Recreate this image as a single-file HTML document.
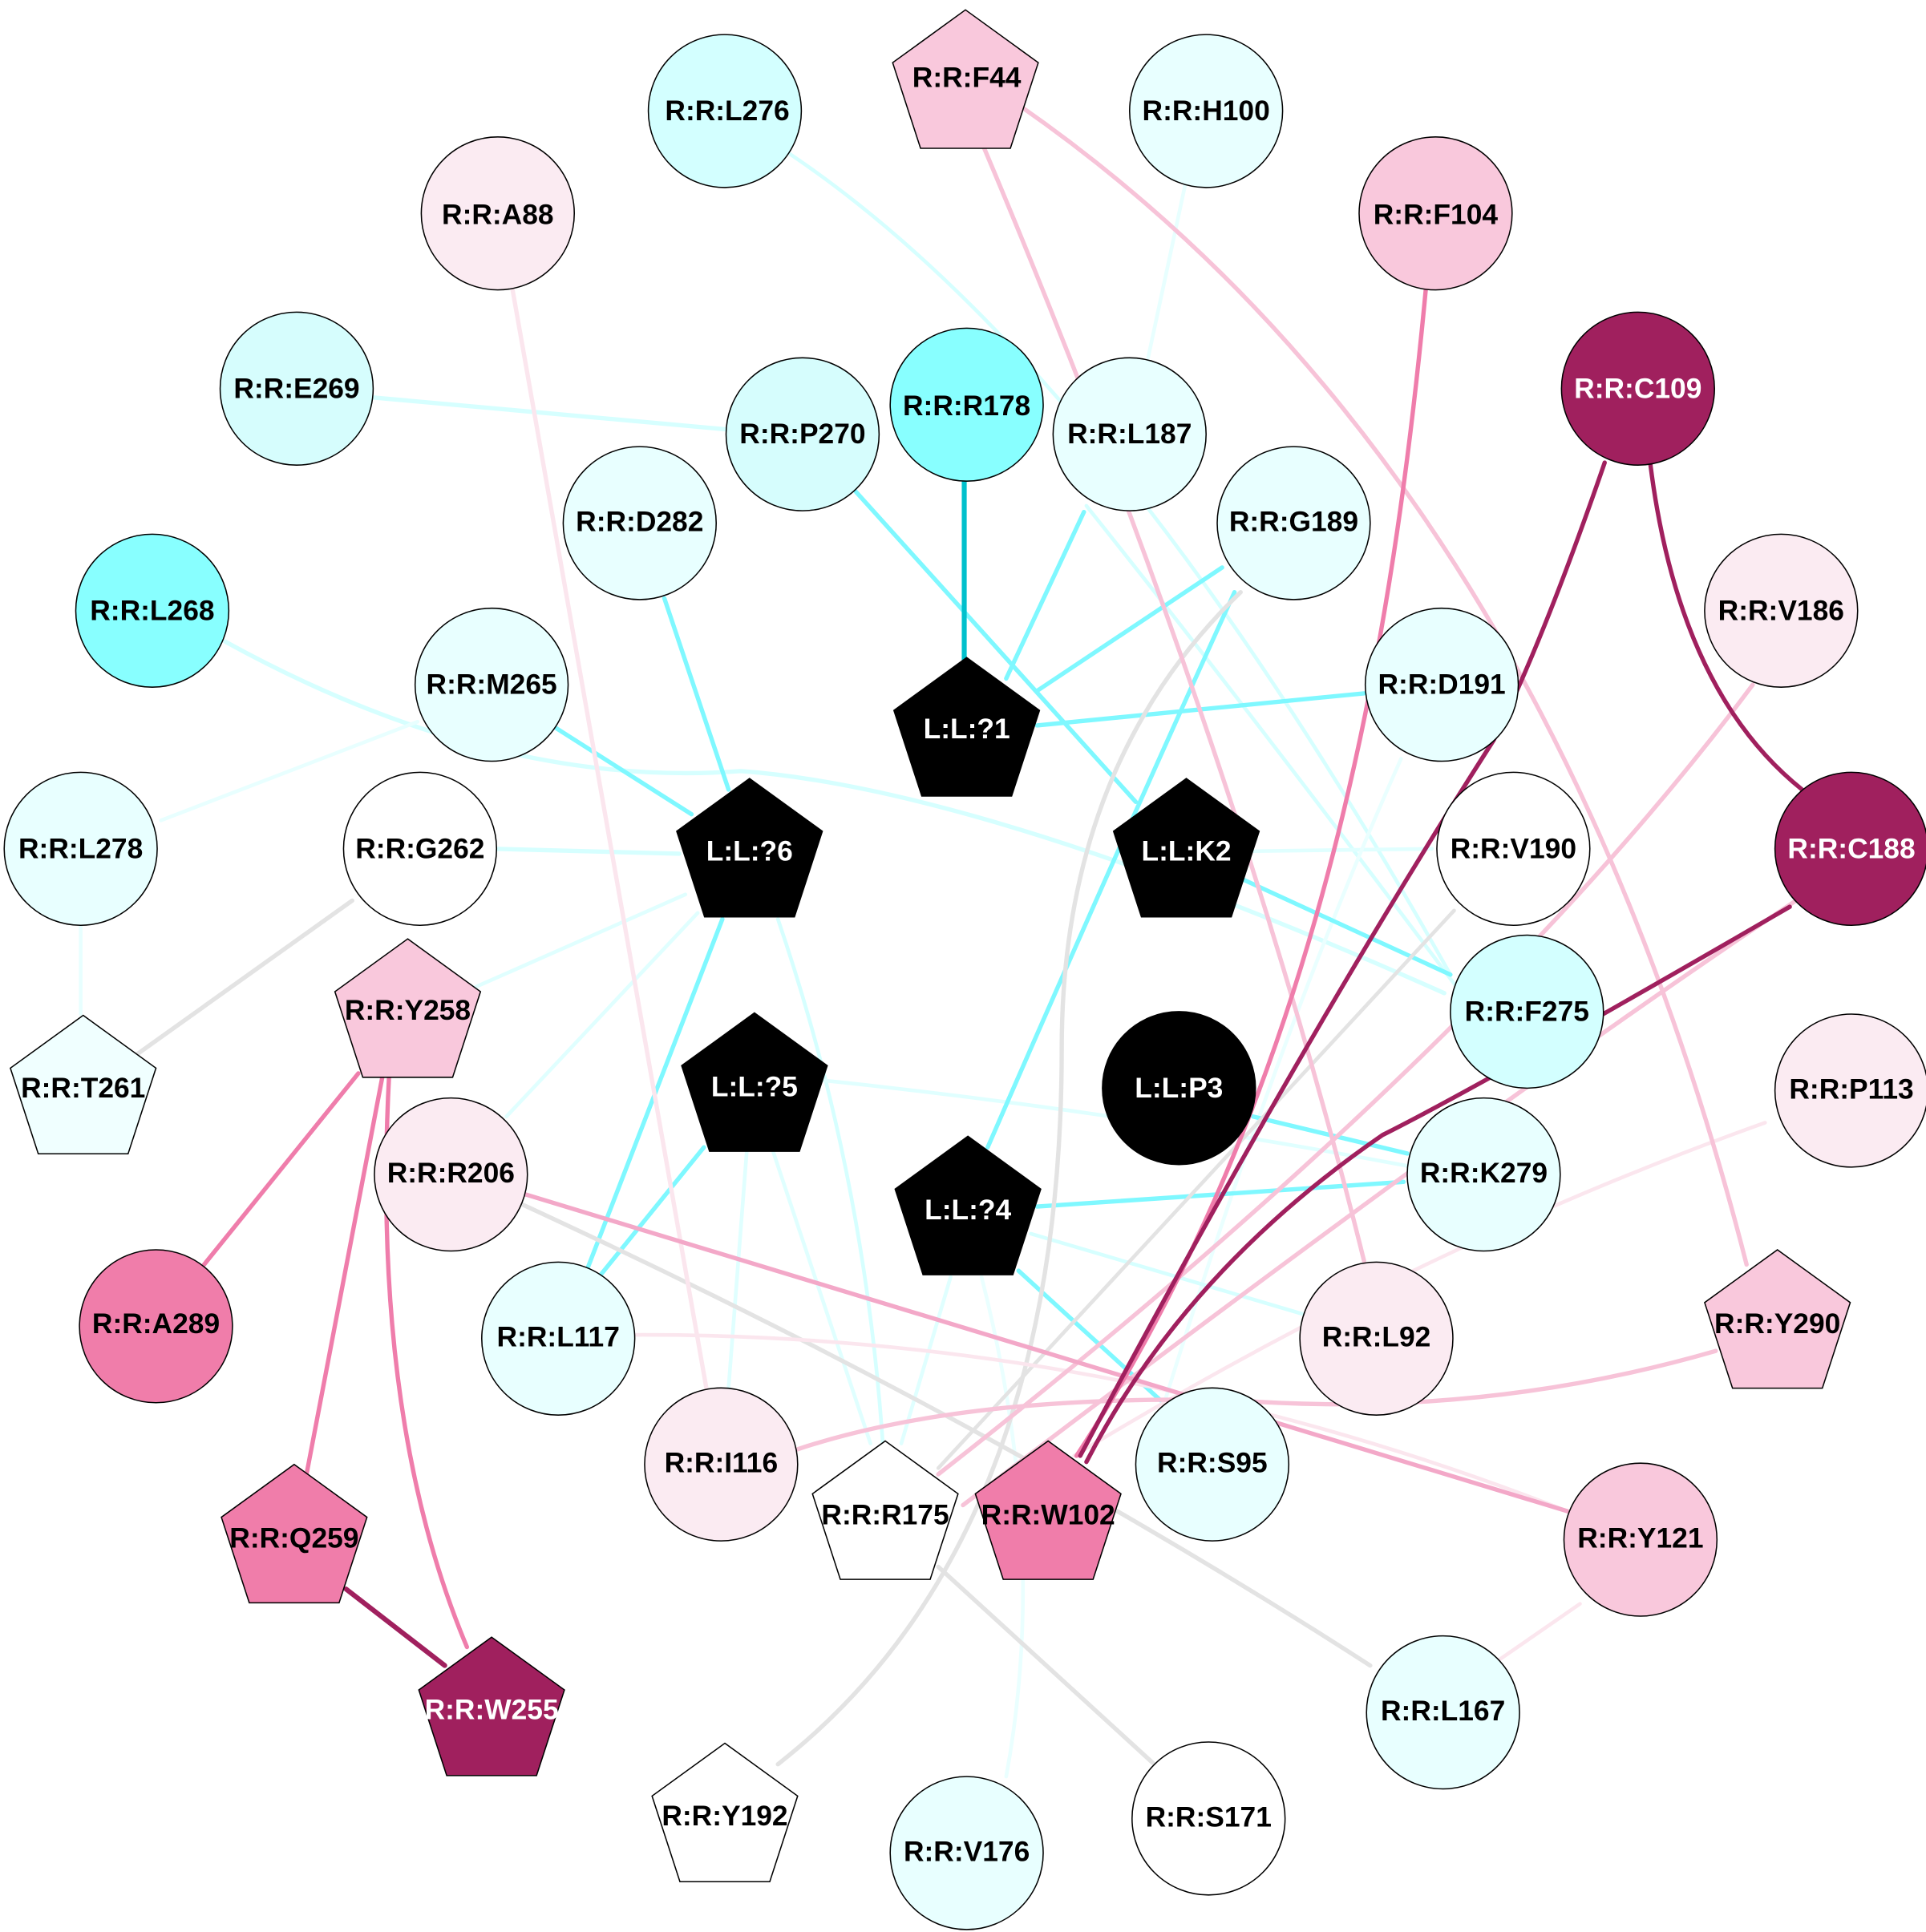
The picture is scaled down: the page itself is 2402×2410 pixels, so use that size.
<!DOCTYPE html>
<html><head><meta charset="utf-8"><style>html,body{margin:0;padding:0;background:#fff}svg{display:block}</style></head>
<body>
<svg xmlns="http://www.w3.org/2000/svg" width="2402" height="2410" viewBox="0 0 1560 1566">
<defs>
<polygon id="pg" points="0,-62 59,-19.2 36.4,50.2 -36.4,50.2 -59,-19.2"/>
</defs>
<rect width="1560" height="1566" fill="#fff"/>
<g fill="none" stroke-linecap="round">
<path d="M640,125 Q900,300 1175,790" stroke="#d6ffff" stroke-width="3"/>
<path d="M960,150 L930,290" stroke="#e8ffff" stroke-width="3"/>
<path d="M300,322 L588,348" stroke="#d6ffff" stroke-width="3.5"/>
<path d="M880,410 Q1000,560 1180,800" stroke="#d6ffff" stroke-width="3"/>
<path d="M182,520 Q400,640 600,625 Q800,640 1170,805" stroke="#d6ffff" stroke-width="3.5"/>
<path d="M338,585 L130,665" stroke="#e8ffff" stroke-width="3"/>
<path d="M65,750 L65,822" stroke="#e8ffff" stroke-width="3"/>
<path d="M400,688 L550,692" stroke="#d6ffff" stroke-width="3.5"/>
<path d="M555,725 L385,800" stroke="#e0ffff" stroke-width="3"/>
<path d="M565,740 L410,905" stroke="#e0ffff" stroke-width="3"/>
<path d="M630,745 Q700,950 715,1170" stroke="#d6ffff" stroke-width="3"/>
<path d="M1010,690 L1160,688" stroke="#e0ffff" stroke-width="3"/>
<path d="M1135,615 Q1030,850 930,1180" stroke="#eaffff" stroke-width="3"/>
<path d="M605,930 L590,1125" stroke="#e0ffff" stroke-width="3"/>
<path d="M625,930 L705,1170" stroke="#e0ffff" stroke-width="3"/>
<path d="M660,875 Q900,900 1140,945" stroke="#e0ffff" stroke-width="3"/>
<path d="M835,1000 L1055,1065" stroke="#d6ffff" stroke-width="3"/>
<path d="M770,1035 L730,1170" stroke="#e0ffff" stroke-width="3"/>
<path d="M795,1035 Q850,1250 815,1440" stroke="#eaffff" stroke-width="3"/>
<path d="M690,395 L920,650" stroke="#7ff8ff" stroke-width="3.5"/>
<path d="M878,415 L815,550" stroke="#7ff8ff" stroke-width="3.5"/>
<path d="M990,460 L840,560" stroke="#7ff8ff" stroke-width="3.5"/>
<path d="M1000,480 Q900,700 800,930" stroke="#7ff8ff" stroke-width="3.5"/>
<path d="M1105,562 L840,588" stroke="#7ff8ff" stroke-width="3.5"/>
<path d="M450,590 L560,660" stroke="#7ff8ff" stroke-width="3.5"/>
<path d="M538,485 L590,640" stroke="#7ff8ff" stroke-width="3.5"/>
<path d="M585,745 L475,1030" stroke="#7ff8ff" stroke-width="3.5"/>
<path d="M1005,712 L1175,790" stroke="#7ff8ff" stroke-width="3.5"/>
<path d="M570,930 L485,1035" stroke="#7ff8ff" stroke-width="3.5"/>
<path d="M1015,905 L1140,935" stroke="#7ff8ff" stroke-width="3.5"/>
<path d="M840,978 L1137,958" stroke="#7ff8ff" stroke-width="3.5"/>
<path d="M825,1030 L940,1135" stroke="#7ff8ff" stroke-width="3.5"/>
<path d="M781,390 L781,535" stroke="#00c0cc" stroke-width="4"/>
<path d="M1005,480 Q860,620 860,850 Q860,1250 630,1430" stroke="#e3e3e3" stroke-width="3.5"/>
<path d="M285,730 L110,855" stroke="#e3e3e3" stroke-width="3.5"/>
<path d="M1178,738 L760,1190" stroke="#e3e3e3" stroke-width="3"/>
<path d="M420,975 Q800,1150 1110,1350" stroke="#e3e3e3" stroke-width="3.5"/>
<path d="M760,1270 L935,1430" stroke="#e3e3e3" stroke-width="3.5"/>
<path d="M415,235 L572,1125" stroke="#fbe6ee" stroke-width="3.5"/>
<path d="M1430,910 Q1150,1010 870,1180" stroke="#fbe6ee" stroke-width="3"/>
<path d="M510,1082 Q900,1080 1270,1225" stroke="#fbe6ee" stroke-width="3"/>
<path d="M1280,1300 L1215,1345" stroke="#fbe6ee" stroke-width="3"/>
<path d="M795,115 Q1000,600 1105,1022" stroke="#f7c3d8" stroke-width="3.5"/>
<path d="M825,85 Q1250,380 1415,1025" stroke="#f7c3d8" stroke-width="3.5"/>
<path d="M1420,555 Q1200,850 760,1195" stroke="#f7c3d8" stroke-width="3.5"/>
<path d="M1455,730 Q1200,900 780,1220" stroke="#f7c3d8" stroke-width="3.5"/>
<path d="M1390,1095 Q1200,1150 1000,1135 Q780,1130 645,1175" stroke="#f7c3d8" stroke-width="3.5"/>
<path d="M425,968 L1270,1225" stroke="#f3a8c8" stroke-width="3.5"/>
<path d="M1155,235 C1130,500 1075,870 872,1180" stroke="#ef7dab" stroke-width="3.5"/>
<path d="M290,870 L165,1025" stroke="#ef7dab" stroke-width="3.5"/>
<path d="M310,870 L248,1195" stroke="#ef7dab" stroke-width="3.5"/>
<path d="M315,870 Q300,1150 378,1335" stroke="#ef7dab" stroke-width="3.5"/>
<path d="M1300,375 Q1250,520 1210,600 Q1050,850 875,1180" stroke="#a0205e" stroke-width="3.5"/>
<path d="M1337,376 Q1360,560 1460,640" stroke="#a0205e" stroke-width="3.5"/>
<path d="M1450,735 Q1200,880 1120,920 Q960,1030 880,1185" stroke="#a0205e" stroke-width="3.5"/>
<path d="M280,1288 L360,1350" stroke="#a0205e" stroke-width="4"/>
</g>
<g stroke="#000" stroke-width="1">
<circle cx="587" cy="90" r="62" fill="#d3ffff"/>
<use href="#pg" x="782" y="70" fill="#f9c8dc"/>
<circle cx="977" cy="90" r="62" fill="#e8ffff"/>
<circle cx="403" cy="173" r="62" fill="#fbebf2"/>
<circle cx="1163" cy="173" r="62" fill="#f9c8dc"/>
<circle cx="240" cy="315" r="62" fill="#d6fdfd"/>
<circle cx="650" cy="352" r="62" fill="#d6fdfd"/>
<circle cx="783" cy="328" r="62" fill="#88ffff"/>
<circle cx="915" cy="352" r="62" fill="#e8ffff"/>
<circle cx="1327" cy="315" r="62" fill="#a0205e"/>
<circle cx="518" cy="424" r="62" fill="#e8ffff"/>
<circle cx="1048" cy="424" r="62" fill="#e8ffff"/>
<circle cx="123" cy="495" r="62" fill="#88ffff"/>
<circle cx="1443" cy="495" r="62" fill="#fbebf2"/>
<circle cx="398" cy="555" r="62" fill="#e8ffff"/>
<circle cx="1168" cy="555" r="62" fill="#e8ffff"/>
<use href="#pg" x="783" y="595" fill="#000"/>
<circle cx="65" cy="688" r="62" fill="#e8ffff"/>
<circle cx="340" cy="688" r="62" fill="#fff"/>
<use href="#pg" x="607" y="693" fill="#000"/>
<use href="#pg" x="961" y="693" fill="#000"/>
<circle cx="1226" cy="688" r="62" fill="#fff"/>
<circle cx="1500" cy="688" r="62" fill="#a0205e"/>
<use href="#pg" x="330" y="823" fill="#f9c8dc"/>
<circle cx="1237" cy="820" r="62" fill="#d3ffff"/>
<use href="#pg" x="67" y="885" fill="#f0ffff"/>
<use href="#pg" x="611" y="883" fill="#000"/>
<circle cx="955" cy="882" r="62" fill="#000"/>
<circle cx="1500" cy="884" r="62" fill="#fbebf2"/>
<circle cx="365" cy="952" r="62" fill="#fbebf2"/>
<circle cx="1202" cy="952" r="62" fill="#e8ffff"/>
<use href="#pg" x="784" y="983" fill="#000"/>
<circle cx="126" cy="1075" r="62" fill="#f07daa"/>
<circle cx="452" cy="1085" r="62" fill="#e8ffff"/>
<circle cx="1115" cy="1085" r="62" fill="#fbebf2"/>
<use href="#pg" x="1440" y="1075" fill="#f9c8dc"/>
<circle cx="584" cy="1187" r="62" fill="#fbebf2"/>
<use href="#pg" x="717" y="1230" fill="#fff"/>
<use href="#pg" x="849" y="1230" fill="#f07daa"/>
<circle cx="982" cy="1187" r="62" fill="#e8ffff"/>
<use href="#pg" x="238" y="1249" fill="#f07daa"/>
<circle cx="1329" cy="1248" r="62" fill="#f9c8dc"/>
<use href="#pg" x="398" y="1389" fill="#a0205e"/>
<circle cx="1169" cy="1388" r="62" fill="#e8ffff"/>
<use href="#pg" x="587" y="1475" fill="#fff"/>
<circle cx="783" cy="1502" r="62" fill="#e8ffff"/>
<circle cx="979" cy="1474" r="62" fill="#fff"/>
</g>
<g font-family="Liberation Sans, sans-serif" font-weight="bold" font-size="23" text-anchor="middle" dominant-baseline="central" fill="#000">
<text x="589" y="90">R:R:L276</text>
<text x="783" y="63">R:R:F44</text>
<text x="977" y="90">R:R:H100</text>
<text x="403" y="174">R:R:A88</text>
<text x="1163" y="174">R:R:F104</text>
<text x="240" y="315">R:R:E269</text>
<text x="650" y="352">R:R:P270</text>
<text x="783" y="329">R:R:R178</text>
<text x="915" y="352">R:R:L187</text>
<text x="1327" y="315" fill="#fff">R:R:C109</text>
<text x="518" y="423">R:R:D282</text>
<text x="1048" y="423">R:R:G189</text>
<text x="123" y="495">R:R:L268</text>
<text x="1443" y="495">R:R:V186</text>
<text x="398" y="555">R:R:M265</text>
<text x="1168" y="555">R:R:D191</text>
<text x="783" y="591" fill="#fff">L:L:?1</text>
<text x="65" y="688">R:R:L278</text>
<text x="340" y="688">R:R:G262</text>
<text x="607" y="690" fill="#fff">L:L:?6</text>
<text x="961" y="690" fill="#fff">L:L:K2</text>
<text x="1226" y="688">R:R:V190</text>
<text x="1500" y="688" fill="#fff">R:R:C188</text>
<text x="330" y="819">R:R:Y258</text>
<text x="1237" y="820">R:R:F275</text>
<text x="67" y="882">R:R:T261</text>
<text x="611" y="881" fill="#fff">L:L:?5</text>
<text x="955" y="882" fill="#fff">L:L:P3</text>
<text x="1500" y="883">R:R:P113</text>
<text x="365" y="951">R:R:R206</text>
<text x="1202" y="951">R:R:K279</text>
<text x="784" y="981" fill="#fff">L:L:?4</text>
<text x="126" y="1073">R:R:A289</text>
<text x="452" y="1084">R:R:L117</text>
<text x="1115" y="1084">R:R:L92</text>
<text x="1440" y="1073">R:R:Y290</text>
<text x="584" y="1186">R:R:I116</text>
<text x="717" y="1228">R:R:R175</text>
<text x="849" y="1228">R:R:W102</text>
<text x="982" y="1186">R:R:S95</text>
<text x="238" y="1247">R:R:Q259</text>
<text x="1329" y="1247">R:R:Y121</text>
<text x="398" y="1386" fill="#fff">R:R:W255</text>
<text x="1169" y="1387">R:R:L167</text>
<text x="587" y="1472">R:R:Y192</text>
<text x="783" y="1501">R:R:V176</text>
<text x="979" y="1473">R:R:S171</text>
</g>
</svg>
</body></html>
